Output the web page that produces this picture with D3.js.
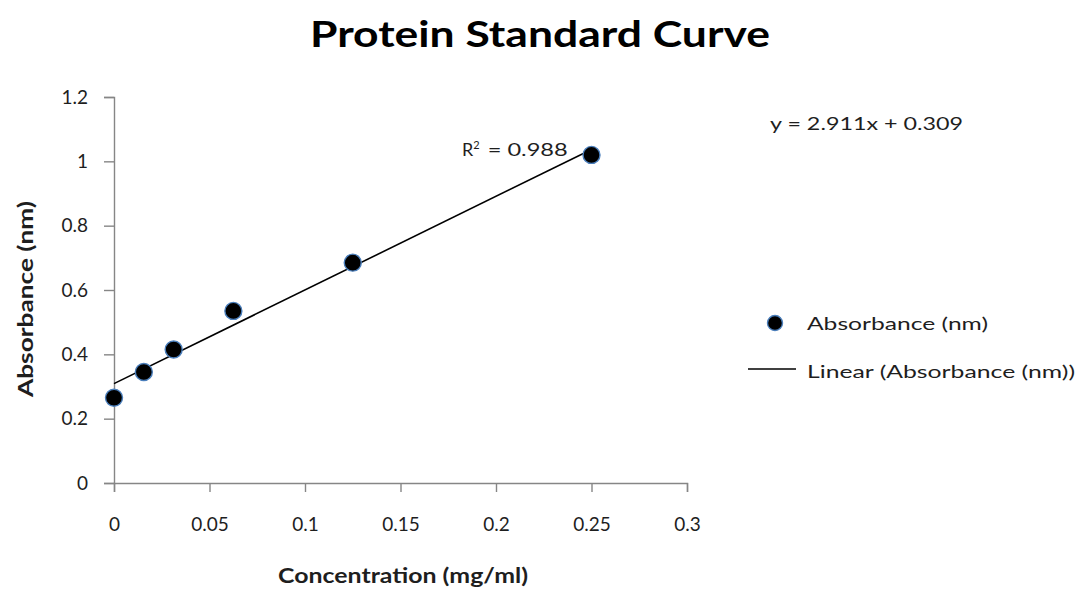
<!DOCTYPE html>
<html><head><meta charset="utf-8">
<script src="https://cdn.jsdelivr.net/npm/d3@7/dist/d3.min.js"></script>
<style>body{margin:0;background:#fff;} text{font-family:Lato,"Open Sans",sans-serif;}</style>
</head><body>
<svg id="c" width="1078" height="589"></svg>
<script>
const concentration = [0, 0.015625, 0.03125, 0.0625, 0.125, 0.25];
const absorbance = [0.265, 0.345, 0.415, 0.535, 0.685, 1.02];
const xTicks = [0, 0.05, 0.1, 0.15, 0.2, 0.25, 0.3];
const yTicks = [0, 0.2, 0.4, 0.6, 0.8, 1, 1.2];
const slope = 2.911, intercept = 0.309, rSquared = 0.988;
const trendX = [0, 0.25];

const svg = d3.select("#c");
const x = d3.scaleLinear().domain([0, 0.3]).range([114, 687]);
const y = d3.scaleLinear().domain([0, 1.2]).range([483, 97]);
const axisColor = "#868686";
const textColor = "#1e1e1e";

const xAxis = svg.append("g").attr("transform", `translate(0,${y(0)})`)
  .call(d3.axisBottom(x).tickValues(xTicks).tickFormat(d => String(d)).tickSize(9).tickPadding(26));
const yAxis = svg.append("g").attr("transform", `translate(${x(0)},0)`)
  .call(d3.axisLeft(y).tickValues(yTicks).tickFormat(d => String(d)).tickSize(10).tickPadding(16));
[xAxis, yAxis].forEach(g => {
  g.select(".domain").attr("stroke", axisColor).attr("stroke-width", 1.4);
  g.selectAll(".tick line").attr("stroke", axisColor).attr("stroke-width", 1.4);
  g.selectAll(".tick text").attr("fill", textColor).style("font-size", "19px").style("font-family", "Lato, 'Open Sans', sans-serif");
});

// trendline
svg.append("line")
  .attr("x1", x(trendX[0])).attr("y1", y(intercept + slope * trendX[0]))
  .attr("x2", x(trendX[1])).attr("y2", y(intercept + slope * trendX[1]))
  .attr("stroke", "#000").attr("stroke-width", 1.6);

// points
svg.append("g").selectAll("circle").data(concentration).join("circle")
  .attr("cx", (d) => x(d)).attr("cy", (d, i) => y(absorbance[i]))
  .attr("r", 8.5).attr("fill", "#000").attr("stroke", "#4a7ebb").attr("stroke-width", 1.4);

// title
svg.append("text").attr("x", 310).attr("y", 47)
  .attr("textLength", 460).attr("lengthAdjust", "spacingAndGlyphs")
  .style("font-size", "37px").style("font-weight", "bold").attr("fill", "#000").text("Protein Standard Curve");

// axis titles
svg.append("text").attr("transform", "translate(33,397) rotate(-90)")
  .attr("textLength", 196).attr("lengthAdjust", "spacingAndGlyphs")
  .style("font-size", "21px").style("font-weight", "bold").attr("fill", textColor).text("Absorbance (nm)");
svg.append("text").attr("x", 278).attr("y", 583)
  .attr("textLength", 250).attr("lengthAdjust", "spacingAndGlyphs")
  .style("font-size", "21px").style("font-weight", "bold").attr("fill", textColor).text("Concentration (mg/ml)");

// equation and R²
svg.append("text").attr("x", 770).attr("y", 130).style("font-size", "18px").attr("fill", textColor)
  .attr("textLength", 193).attr("lengthAdjust", "spacingAndGlyphs")
  .text(`y = ${slope}x + ${intercept}`);
const r = svg.append("text").attr("x", 462).attr("y", 156).style("font-size", "18px").attr("fill", textColor);
r.append("tspan").text("R");
r.append("tspan").attr("dy", -7).style("font-size", "11px").text("2");
r.append("tspan").attr("dy", 7).attr("dx", 8).attr("textLength", 80).attr("lengthAdjust", "spacingAndGlyphs").text(`= ${rSquared}`);

// legend
svg.append("circle").attr("cx", 775).attr("cy", 323).attr("r", 7.5).attr("fill", "#000").attr("stroke", "#4a7ebb").attr("stroke-width", 1.4);
svg.append("text").attr("x", 807).attr("y", 330).style("font-size", "18px").attr("fill", textColor)
  .attr("textLength", 181).attr("lengthAdjust", "spacingAndGlyphs").text("Absorbance (nm)");
svg.append("line").attr("x1", 748).attr("x2", 796).attr("y1", 369).attr("y2", 369).attr("stroke", "#000").attr("stroke-width", 1.6);
svg.append("text").attr("x", 807).attr("y", 378).style("font-size", "18px").attr("fill", textColor)
  .attr("textLength", 268).attr("lengthAdjust", "spacingAndGlyphs").text("Linear (Absorbance (nm))");
</script>
</body></html>
